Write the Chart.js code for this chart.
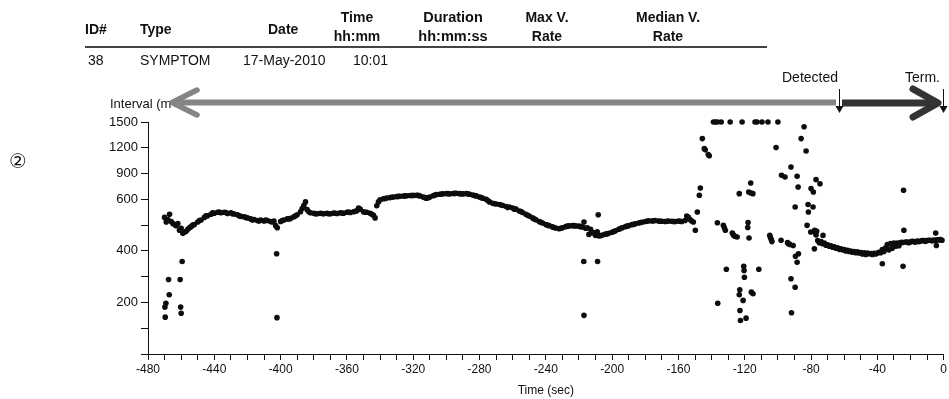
<!DOCTYPE html>
<html>
<head>
<meta charset="utf-8">
<script src="https://cdn.jsdelivr.net/npm/chart.js@4.4.1/dist/chart.umd.min.js"></script>
<style>
  body { margin: 0; background: #fff; font-family: "Liberation Sans", Arial, sans-serif; color: #111; }
  #wrap { position: relative; width: 949px; height: 399px; }
  canvas { position: absolute; left: 0; top: 0; }
  .t { position: absolute; white-space: nowrap; font-size: 14px; line-height: 16px; }
  .h { font-weight: bold; text-align: center; line-height: 19px; }
  .rule { position: absolute; left: 85px; top: 46px; width: 682px; height: 2px; background: #444; }
</style>
</head>
<body>
<div id="wrap">
  <canvas id="graph1" width="949" height="399"></canvas>
  <div class="t" style="left:85px;top:21px;font-weight:bold">ID#</div>
  <div class="t" style="left:140px;top:21px;font-weight:bold">Type</div>
  <div class="t" style="left:268px;top:21px;font-weight:bold">Date</div>
  <div class="t h" style="left:317px;top:8px;width:80px">Time<br>hh:mm</div>
  <div class="t h" style="left:402px;top:8px;width:102px;font-size:14.5px">Duration<br>hh:mm:ss</div>
  <div class="t h" style="left:507px;top:8px;width:80px">Max V.<br>Rate</div>
  <div class="t h" style="left:618px;top:8px;width:100px">Median V.<br>Rate</div>
  <div class="rule"></div>
  <div class="t" style="left:88px;top:52px">38</div>
  <div class="t" style="left:140px;top:52px">SYMPTOM</div>
  <div class="t" style="left:243px;top:52px">17-May-2010</div>
  <div class="t" style="left:353px;top:52px">10:01</div>
  <div class="t" style="left:9px;top:150px;font-size:20px;line-height:22px;font-family:'DejaVu Sans'">②</div>
  <div class="t" style="left:782px;top:69px">Detected</div>
  <div class="t" style="left:905px;top:69px">Term.</div>
</div>
<script>
// sinus / slow rhythm before onset (sec, ms)
const sinusTimes = [
  -470,-468,-466,-464,-462,-460,-458,-456,-454,-452,
  -450,-448,-446,-444,-442,-440,-438,-436,-434,-432,
  -430,-428,-426,-424,-422,-420,-418,-416,-414,-412,
  -410,-408,-406,-404,-402,-400,-398,-396,-394,-392,
  -390,-388,-386,-384,-382,-380,-378,-376,-374,-372,
  -370,-368,-366,-364,-362,-360,-358,-356,-354,-352,
  -350,-348,-346,-344,-342,-340,-338,-336,-334,-332,
  -330,-328,-326,-324,-322,-320,-318,-316,-314,-312,
  -310,-308,-306,-304,-302,-300,-298,-296,-294,-292,
  -290,-288,-286,-284,-282,-280,-278,-276,-274,-272,
  -270,-268,-266,-264,-262,-260,-258,-256,-254,-252,
  -250,-248,-246,-244,-242,-240,-238,-236,-234,-232,
  -230,-228,-226,-224,-222,-220,-218,-216,-214,-212,
  -210,-208,-206,-204,-202,-200,-198,-196,-194,-192,
  -190,-188,-186,-184,-182,-180,-178,-176,-174,-172,
  -170,-168,-166,-164,-162,-160,-158,-156,-154,-152
];
const sinusMs = [
  530,522,514,502,506,488,472,484,494,502,
  512,520,530,536,542,546,550,548,550,545,
  548,543,540,534,532,528,524,522,518,520,
  516,518,514,516,490,514,520,524,526,532,
  540,552,576,560,548,546,544,546,544,546,
  544,547,545,548,546,550,549,552,556,562,
  552,550,546,538,575,598,606,615,620,628,
  632,636,638,641,644,646,648,640,628,614,
  626,642,655,660,664,668,664,668,670,666,
  663,667,660,650,640,628,612,600,590,585,
  582,580,576,572,570,566,562,555,549,542,
  535,528,521,514,508,502,498,493,489,486,
  490,494,497,498,497,496,493,488,464,470,
  460,458,461,465,468,472,478,484,490,494,
  498,502,505,508,511,514,517,516,518,516,
  515,514,516,515,514,516,514,518,530,516
];
// in-between beats of the same rhythm
const sinusTimes2 = [
  -469,-467,-465,-463,-461,-459,-457,-455,-453,-449,-445,-441,-437,-433,-429,-425,-421,-417,-413,-409,
  -405,-403,-399,-395,-391,-387,-385,-383,-379,-375,-371,-367,-363,-359,-355,-353,-349,-345,-343,-341,
  -337,-333,-329,-325,-321,-317,-313,-311,-307,-303,-299,-295,-291,-287,-283,-279,-275,-271,-267,-263,
  -259,-255,-251,-247,-243,-239,-235,-231,-227,-223,-219,-217,-215,-213,-211,-209,-207,-203,-199,-195,
  -191,-187,-183,-179,-175,-171,-167,-163,-159,-155,-153,-151
];
const sinusMs2 = [
  512,542,506,498,480,468,476,490,500,518,536,548,551,549,544,536,530,520,516,520,
  512,498,518,524,536,564,590,552,544,545,544,546,547,551,554,566,550,542,528,590,
  610,624,634,640,645,646,620,618,650,662,666,669,665,664,645,620,595,583,578,568,
  562,553,538,524,511,500,491,488,496,498,494,512,490,484,470,474,459,466,475,487,
  496,503,510,515,517,515,515,514,515,535,522,512
];
// isolated short / long beats
const ectopicTimes = [-469.8,-469.6,-469.2,-467.6,-467.2,-460.6,-460.3,-460.0,-459.4,-402.4,-402.2,-217.1,-217.0,-208.8,-208.4];
const ectopicMs = [182,143,197,289,230,289,182,158,359,389,141,359,150,359,540];
// irregular episode
const onsetTimes = [
  -149.8,-148.6,-147.4,-146.8,-145.6,-144.4,-143.8,-142.0,-141.4,-138.9,-137.7,-136.5,-136.5,-136.3,
  -134.2,-132.9,-132.3,-131.7,-131.1,-128.8,-127.5,-126.9,-126.3,-125.5,-124.6,-123.3,-123.3,-123.0,
  -122.9,-122.6,-121.6,-121.0,-120.6,-120.4,-120.2,-119.2,-118.2,-118.0,-117.6,-117.4,-116.4,-116.2,
  -116.0,-115.1,-115.0,-113.8,-112.6,-111.5,-109.6,-106.0,-104.9,-104.5,-104.0,-103.6,-101.1,-100.0,
  -98.1,-97.8,-95.7,-94.2,-93.6,-92.7,-92.1,-92.1,-91.8,-90.8,-89.6,-89.6,-89.4,-88.4,-88.4,-87.8,
  -87.6,-86.0,-84.2,-83.0,-82.4,-81.8,-81.6,-80.2,-80.0,-78.8,-78.6,-78.0,-77.8,-77.4,-77.0,-77.0,
  -76.6,-74.6,-72.8
];
const onsetMs = [
  480,551,647,732,1307,1190,1176,1121,1108,1500,1500,1500,509,197,
  1500,499,490,480,329,1500,469,462,458,456,454,666,230,249,
  169,130,1500,208,340,324,298,139,491,510,685,450,790,673,
  240,666,234,1500,1500,329,1500,1500,460,452,444,436,1202,1500,
  441,880,860,432,428,425,976,292,160,421,259,570,379,356,868,744,
  389,1307,1445,1163,499,580,551,473,725,570,685,408,480,470,462,829,
  476,782,460
];
// rhythm after detection
const postTimes = [
  -76,-75,-74,-73,-72,-71,-70,-69,-68,-67,-66,-65,-64,-63,-62,-61,-60,-59,-58,-57,
  -56,-55,-54,-53,-52,-51,-50,-49,-48,-47,-46,-45,-44,-43,-42,-41,-40,-39,-38,-37,
  -37,-36,-35,-34,-33,-32,-31,-30,-29,-28,-27,-26,-25,-24.5,-24.2,-24,-23,-22,-21,-20,
  -19,-18,-17,-16,-15,-14,-13,-12,-11,-10,-9,-8,-7,-6,-5,-4.8,-4.4,-4,-3,-2,-1
];
const postMs = [
  440,432,436,428,430,422,424,418,420,414,416,410,412,406,408,404,405,400,402,398,
  399,395,397,393,396,392,394,388,393,386,392,389,390,386,391,388,392,395,393,350,
  405,398,412,425,404,428,410,430,418,430,420,432,433,340,705,480,434,434,432,435,
  437,436,434,438,436,438,440,440,437,440,441,441,439,442,440,469,421,443,442,444,441
];

const yTickMs = [0, 100, 200, 300, 400, 500, 600, 900, 1200, 1500];
const yLabelMs = [200, 400, 600, 900, 1200, 1500];

// broken interval axis: above 600 ms the scale is 3x compressed
const squeeze = v => v <= 600 ? v : 600 + (v - 600) / 3;
const toPts = (ts, ms) => ts.map((t, i) => ({ x: t, y: squeeze(ms[i]) }));

const allPts = [].concat(
  toPts(sinusTimes, sinusMs), toPts(sinusTimes2, sinusMs2), toPts(ectopicTimes, ectopicMs),
  toPts(onsetTimes, onsetMs), toPts(postTimes, postMs)
);

const overlay = {
  id: 'overlay',
  afterDraw(chart) {
    const c = chart.ctx;
    c.save();
    // y title, partly hidden behind the arrow head
    c.save();
    c.beginPath(); c.rect(100, 90, 72, 24); c.clip();
    c.fillStyle = '#111';
    c.font = '13px "Liberation Sans", Arial, sans-serif';
    c.textBaseline = 'middle';
    c.fillText('Interval (ms)', 110, 104);
    c.restore();
    // grey arrow (pre-detection)
    c.strokeStyle = '#858585';
    c.lineWidth = 6; c.lineCap = 'butt';
    c.beginPath(); c.moveTo(176, 102.5); c.lineTo(836, 102.5); c.stroke();
    c.lineWidth = 5.5; c.lineCap = 'round'; c.lineJoin = 'round';
    c.beginPath(); c.moveTo(197, 90); c.lineTo(172, 102.5); c.lineTo(197, 115); c.stroke();
    // dark arrow (detected -> term.)
    c.strokeStyle = '#333';
    c.lineWidth = 7; c.lineCap = 'butt';
    c.beginPath(); c.moveTo(842, 103); c.lineTo(934, 103); c.stroke();
    c.lineCap = 'round';
    c.beginPath(); c.moveTo(913, 89); c.lineTo(938, 103); c.lineTo(913, 117); c.stroke();
    // small down markers
    c.strokeStyle = '#111'; c.fillStyle = '#111'; c.lineWidth = 1; c.lineCap = 'butt';
    [839.5, 943.5].forEach(x => {
      c.beginPath(); c.moveTo(x, 89); c.lineTo(x, 107); c.stroke();
      c.beginPath(); c.moveTo(x - 4, 106); c.lineTo(x + 4, 106); c.lineTo(x, 113); c.closePath(); c.fill();
    });
    c.restore();
  }
};

const ctx = document.getElementById('graph1');
new Chart(ctx, {
  type: 'scatter',
  data: {
    datasets: [{
      label: 'Interval',
      data: allPts,
      pointRadius: 2.8,
      pointBorderWidth: 0,
      backgroundColor: '#0d0d0d',
      clip: false
    }]
  },
  options: {
    responsive: false,
    animation: false,
    devicePixelRatio: 1,
    layout: { padding: { top: 122, left: 0, right: 0, bottom: 0 } },
    plugins: { legend: { display: false }, tooltip: { enabled: false } },
    scales: {
      x: {
        type: 'linear', min: -480, max: 0,
        afterFit: s => { s.height = 45; },
        ticks: {
          stepSize: 10, autoSkip: false, maxRotation: 0, padding: 2, color: '#111',
          font: { family: '"Liberation Sans", Arial, sans-serif', size: 12 },
          callback: v => v % 40 === 0 ? String(v) : ''
        },
        grid: { drawOnChartArea: false, tickLength: 6, color: '#111' },
        border: { color: '#111', width: 1 },
        title: {
          display: true, text: 'Time (sec)', color: '#111', padding: { top: 0, bottom: 1 },
          font: { family: '"Liberation Sans", Arial, sans-serif', size: 12 }
        }
      },
      y: {
        type: 'linear', min: 0, max: 900,
        afterFit: s => { s.width = 148; },
        afterBuildTicks: s => { s.ticks = yTickMs.map(v => ({ value: squeeze(v) })); },
        ticks: {
          padding: 3, color: '#111', autoSkip: false,
          font: { family: '"Liberation Sans", Arial, sans-serif', size: 13 },
          callback: v => {
            const ms = yTickMs.find(m => squeeze(m) === v);
            return yLabelMs.includes(ms) ? String(ms) : '';
          }
        },
        grid: { drawOnChartArea: false, tickLength: 7, color: '#111' },
        border: { color: '#111', width: 1 }
      }
    }
  },
  plugins: [overlay]
});
</script>
</body>
</html>
